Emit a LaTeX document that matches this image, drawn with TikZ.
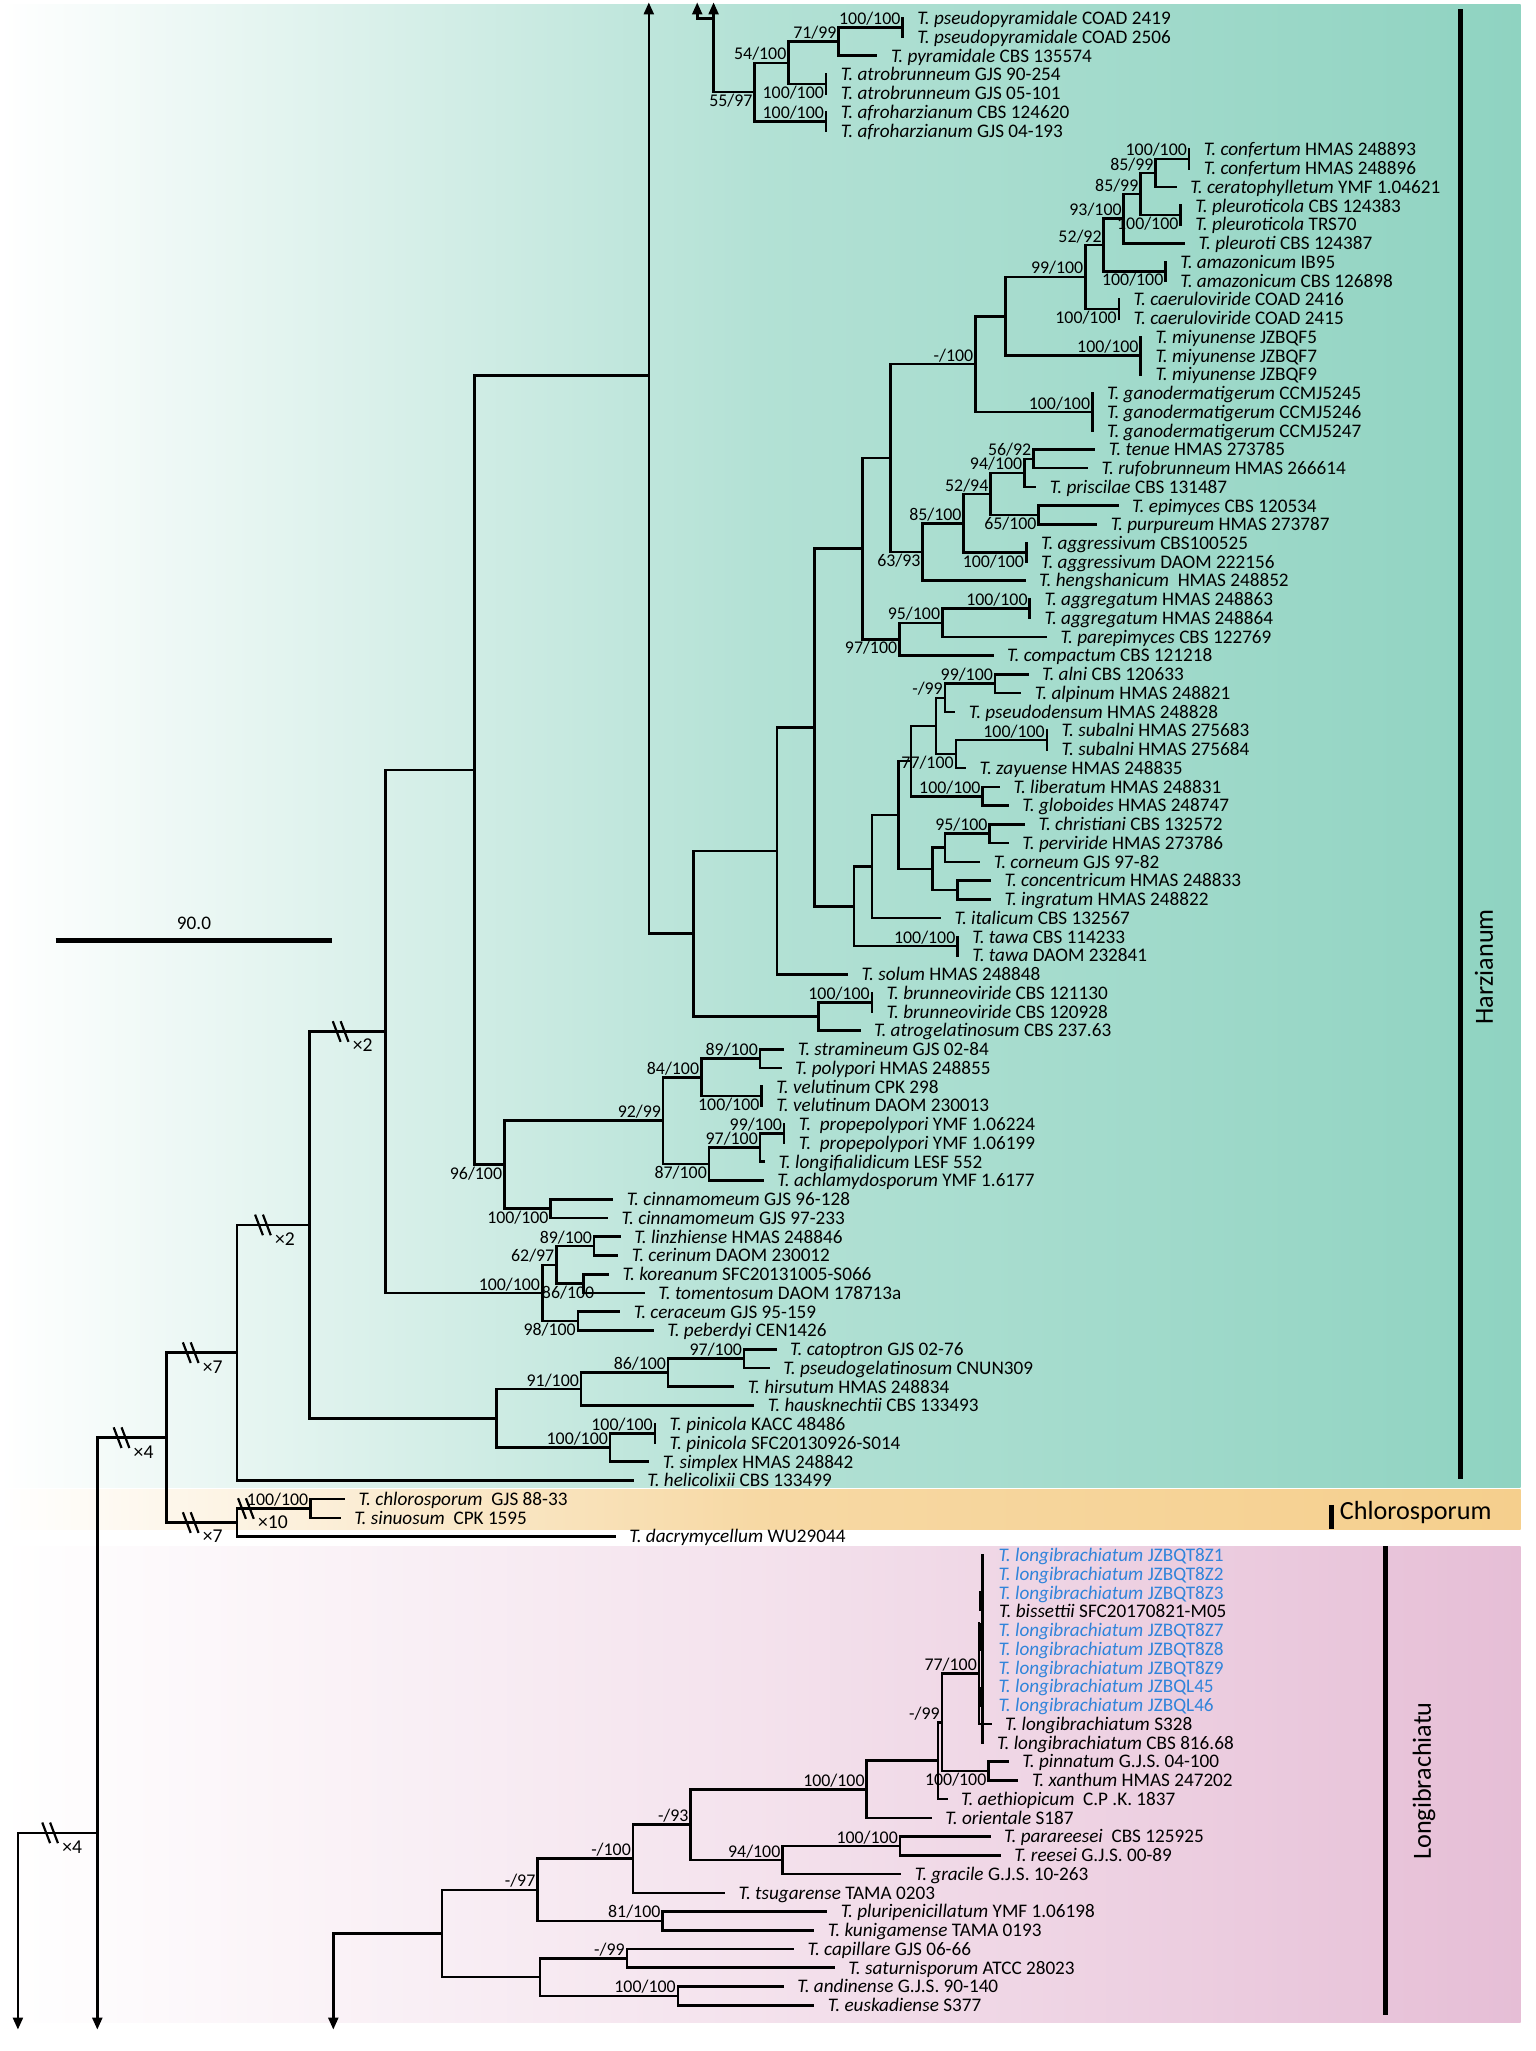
\documentclass[tikz,border=0pt]{standalone}
\usepackage{fontspec}
\setmainfont{Carlito}
\usetikzlibrary{arrows.meta}
\definecolor{harzgreen}{RGB}{143,211,193}
\definecolor{chlororange}{RGB}{245,207,141}
\definecolor{longipink}{RGB}{230,190,214}
\definecolor{newblue}{RGB}{48,132,218}

\begin{document}
\begin{tikzpicture}[x=0.6pt, y=-8.598pt,
    br/.style={line width=1.2pt, line cap=rect},
    arr/.style={line width=1.2pt, -{Triangle[length=5.5pt, width=4.5pt]}},
    tax/.style={anchor=base west, inner sep=0pt, yshift=-2.9pt, font=\fontsize{8.8}{10}\selectfont},
    supa/.style={anchor=south east, inner sep=0.8pt, font=\fontsize{8.2}{9}\selectfont},
    supb/.style={anchor=north east, inner sep=0.8pt, font=\fontsize{8.2}{9}\selectfont},
    brk/.style={line width=1pt},
    clade/.style={font=\fontsize{12}{14}\selectfont},
    cbar/.style={line width=2.2pt}
]

\useasboundingbox (0,-0.977) rectangle (1174,108.44);

\shade[left color=white, right color=harzgreen, middle color=harzgreen!68] (0,-0.726) rectangle (1162.5,78.37);
\shade[left color=white, right color=chlororange, middle color=chlororange!80] (0,78.46) rectangle (1162.5,80.6);
\shade[left color=white, right color=longipink, middle color=longipink!45] (0,81.52) rectangle (1162.5,106.94);

\foreach \n/\x/\r/\s/\t in {
  ppyA/690/0/pseudopyramidale/COAD 2419, ppyB/690/1/pseudopyramidale/COAD 2506,
  pyr/669.8/2/pyramidale/CBS 135574,
  atrA/631.5/3/atrobrunneum/GJS 90-254, atrB/631.5/4/atrobrunneum/GJS 05-101,
  afrA/631.5/5/afroharzianum/CBS 124620, afrB/631.5/6/afroharzianum/GJS 04-193,
  cfA/909/7/confertum/HMAS 248893, cfB/909/8/confertum/HMAS 248896,
  cer/898.7/9/ceratophylletum/YMF 1.04621,
  plA/902.5/10/pleuroticola/CBS 124383, plB/902.5/11/pleuroticola/TRS70,
  plt/905/12/pleuroti/CBS 124387,
  amA/891/13/amazonicum/IB95, amB/891/14/amazonicum/CBS 126898,
  caA/855.3/15/caeruloviride/COAD 2416, caB/855.3/16/caeruloviride/COAD 2415,
  miA/872/17/miyunense/JZBQF5, miB/872/18/miyunense/JZBQF7, miC/872/19/miyunense/JZBQF9,
  gaA/835/20/ganodermatigerum/CCMJ5245, gaB/835/21/ganodermatigerum/CCMJ5246,
  gaC/835/22/ganodermatigerum/CCMJ5247,
  ten/836.4/23/tenue/HMAS 273785, ruf/830.9/24/rufobrunneum/HMAS 266614,
  pri/791.3/25/priscilae/CBS 131487,
  epi/854.2/26/epimyces/CBS 120534, pur/837.8/27/purpureum/HMAS 273787,
  agA/784.5/28/aggressivum/CBS100525, agB/784.5/29/aggressivum/DAOM 222156,
  hen/783.1/30/hengshanicum/\ HMAS 248852,
  ggA/787.2/31/aggregatum/HMAS 248863, ggB/787.2/32/aggregatum/HMAS 248864,
  par/799.5/33/parepimyces/CBS 122769, com/758.6/34/compactum/CBS 121218,
  aln/785.3/35/alni/CBS 120633, alp/779.8/36/alpinum/HMAS 248821,
  psd/729.3/37/pseudodensum/HMAS 248828,
  sbA/800.3/38/subalni/HMAS 275683, sbB/800.3/39/subalni/HMAS 275684,
  zay/737.5/40/zayuense/HMAS 248835,
  lib/763.5/41/liberatum/HMAS 248831, glo/770.3/42/globoides/HMAS 248747,
  chr/782.6/43/christiani/CBS 132572, per/770.3/44/perviride/HMAS 273786,
  cor/748.4/45/corneum/GJS 97-82,
  con/756.6/46/concentricum/HMAS 248833, ing/756.6/47/ingratum/HMAS 248822,
  ita/718.4/48/italicum/CBS 132567,
  twA/732/49/tawa/CBS 114233, twB/732/50/tawa/DAOM 232841,
  sol/647.4/51/solum/HMAS 248848,
  bvA/666.5/52/brunneoviride/CBS 121130, bvB/666.5/53/brunneoviride/CBS 120928,
  atg/656.9/54/atrogelatinosum/CBS 237.63,
  str/598.6/55/stramineum/GJS 02-84, pol/596.6/56/polypori/HMAS 248855,
  veA/582.2/57/velutinum/CPK 298, veB/582.2/58/velutinum/DAOM 230013,
  ppA/599.4/59/\ propepolypori/YMF 1.06224, ppB/599.4/60/\ propepolypori/YMF 1.06199,
  lon/583.8/61/longifialidicum/LESF 552, ach/583/62/achlamydosporum/YMF 1.6177,
  ciA/467.8/63/cinnamomeum/GJS 96-128, ciB/463.9/64/cinnamomeum/GJS 97-233,
  lin/473.7/65/linzhiense/HMAS 248846, cern/471.7/66/cerinum/DAOM 230012,
  kor/464.7/67/koreanum/SFC20131005-S066, tom/492/68/tomentosum/DAOM 178713a,
  cera/473.2/69/ceraceum/GJS 95-159, peb/498.8/70/peberdyi/CEN1426,
  cat/592.7/71/catoptron/GJS 02-76, pge/587.6/72/pseudogelatinosum/CNUN309,
  hir/560.3/73/hirsutum/HMAS 248834, hau/575.7/74/hausknechtii/CBS 133493,
  piA/500.6/75/pinicola/KACC 48486, piB/500.6/76/pinicola/SFC20130926-S014,
  sim/495.5/77/simplex/HMAS 248842, hel/483.5/78/helicolixii/CBS 133499,
  chl/262.9/79/chlorosporum/\ GJS 88-33, sin/259.5/80/sinuosum/\ CPK 1595,
  dac/469.8/81/dacrymycellum/WU29044,
  bis/752.5/85/bissettii/SFC20170821-M05,
  s328/757/91/longibrachiatum/S328, cbs/751/92/longibrachiatum/CBS 816.68,
  pin/770.3/93/pinnatum/G.J.S. 04-100, xan/777.6/94/xanthum/HMAS 247202,
  aet/723.4/95/aethiopicum/\ C.P .K. 1837, ori/711.4/96/orientale/S187,
  prr/756.3/97/parareesei/\ CBS 125925, ree/764.1/98/reesei/G.J.S. 00-89,
  gra/688/99/gracile/G.J.S. 10-263, tsu/553.3/100/tsugarense/TAMA 0203,
  plu/631.4/101/pluripenicillatum/YMF 1.06198, kun/621.6/102/kunigamense/TAMA 0193,
  cap/606/103/capillare/GJS 06-66, sat/637.3/104/saturnisporum/ATCC 28023,
  adn/598.2/105/andinense/G.J.S. 90-140, eus/621.6/106/euskadiense/S377}{
  \coordinate (\n) at (\x,\r);
  \node[tax] (l\n) at (\x+11,\r) {\textit{T. \s} \t};
}

\foreach \n/\r/\t in {lgA/82/JZBQT8Z1, lgB/83/JZBQT8Z2, lgC/84/JZBQT8Z3, lgD/86/JZBQT8Z7,
    lgE/87/JZBQT8Z8, lgF/88/JZBQT8Z9, lgG/89/JZBQL45, lgH/90/JZBQL46}{
  \coordinate (\n) at (752,\r);
  \node[tax, text=newblue] (l\n) at (763,\r) {\textit{T. longibrachiatum} \t};
}

\foreach \n/\x/\y in {
  pp/690/0.5, atr/631.5/3.5, afr/631.5/5.5, n71/641.1/1.25, n54/602.8/2.375, n55/576.9/3.9375,
  cf/909/7.5, n85u/883.4/8.25, pl/902.5/10.5, n85l/871.9/9.375, n93/859.1/10.6875,
  am/891/13.5, n52/843.8/12.094, ca/855.3/15.5, n99a/829.8/13.797, mi/872/18,
  n99b/768.6/15.898, ga/835/21, nA/745.7/18.449,
  n56/790/23.5, n94/783.1/24.25, n65/794/26.5, n52b/757.2/25.375, ag/784.5/28.5,
  n85/736.7/26.938, n63/705.3/28.469, nB/680.7/23.459, gg/787.2/31.5, n95/720.3/32.25,
  n97/687.5/33.125, nC/659.4/28.292,
  n9910/760.7/35.5, n99c/722.4/36.25, sb/800.3/38.5, n77/730.7/39.25, nD/715.6/37.75,
  n100l/751.2/41.5, nE/696.5/39.625, n95b/756.6/43.5, nF/722.4/44.25, nG/732/46.5,
  nH/712.9/45.375, nI/687/42.5, nJ/666.5/45.25, tw/732/49.5, nK/652.8/47.375,
  nL/622.8/37.833, nM/594.1/44.417, bv/666.5/52.5, nN/625.5/53.25, nO/530.3/48.833,
  ar1/496/19.05,
  n89/581/55.5, ve/582.2/57.5, n84/536.1/56.5, pq/599.4/59.5, n97b/581/60.25,
  n87/542/61.125, n92/506.9/58.813, n100c/421/63.5, n96/385.5/61.156, nP/362.6/40.103,
  n89b/454.2/65.5, n86k/445.9/67.5, n62/425.4/66.5, n98/441.8/69.5, n100k/414.5/68,
  nQ/294.8/54.052,
  n97c/568.8/71.5, n86/510.8/72.25, n91/444.2/73.125, pi/500.6/75.5, n100p/466.4/76.25,
  nR/379.4/74.688, nS/236.5/64.37, nT/181.3/71.185,
  nCh/237.3/79.5, nU/181.3/80.25, nV/127.4/75.718,
  lb/748.4/88.3, nPX/755.7/93.5, n77L/720/90.9, n99L/717/92.95, n100o/662.6/94.475,
  npr/688/97.5, n94L/598.2/98.25, n93L/528/96.363, n100L/483.9/98.181, n81/506.5/101.5,
  n97L/410.9/99.84, n99d/479.2/103.5, n100a/518.2/105.5, nX/412.9/104.5, nY/337.9/102.17,
  arT/496/-0.85, arP/545.5/-0.85, arJ/545.5/0, arQ/533/-0.85,
  nWr/74.4/96.8, arW/74.4/107.3, arR/13.7/107.3, arL/254.8/107.3}
  \coordinate (\n) at (\x,\y);

\foreach \p/\c in {pp/ppyA, pp/ppyB, n71/pp, n71/pyr, n54/n71, n54/atr, atr/atrA, atr/atrB,
  n55/n54, n55/afr, afr/afrA, afr/afrB,
  cf/cfA, cf/cfB, n85u/cf, n85u/cer, pl/plA, pl/plB, n85l/n85u, n85l/pl, n93/n85l, n93/plt,
  am/amA, am/amB, n52/n93, n52/am, ca/caA, ca/caB, n99a/n52, n99a/ca, mi/miA, mi/miC,
  n99b/n99a, n99b/mi, ga/gaA, ga/gaC, nA/n99b, nA/ga,
  n56/ten, n56/ruf, n94/n56, n94/pri, n65/epi, n65/pur, n52b/n94, n52b/n65, ag/agA, ag/agB,
  n85/n52b, n85/ag, n63/n85, n63/hen, nB/nA, nB/n63, gg/ggA, gg/ggB, n95/gg, n95/par,
  n97/n95, n97/com, nC/nB, nC/n97,
  n9910/aln, n9910/alp, n99c/n9910, n99c/psd, sb/sbA, sb/sbB, n77/sb, n77/zay, nD/n99c, nD/n77,
  n100l/lib, n100l/glo, nE/nD, nE/n100l, n95b/chr, n95b/per, nF/n95b, nF/cor, nG/con, nG/ing,
  nH/nF, nH/nG, nI/nE, nI/nH, nJ/nI, nJ/ita, tw/twA, tw/twB, nK/nJ, nK/tw, nL/nC, nL/nK,
  nM/nL, nM/sol, bv/bvA, bv/bvB, nN/bv, nN/atg, nO/nM, nO/nN,
  n89/str, n89/pol, ve/veA, ve/veB, n84/n89, n84/ve, pq/ppA, pq/ppB, n97b/pq, n97b/lon,
  n87/n97b, n87/ach, n92/n84, n92/n87, n100c/ciA, n100c/ciB, n96/n92, n96/n100c,
  nP/ar1, nP/n96,
  n89b/lin, n89b/cern, n86k/kor, n86k/tom, n62/n89b, n62/n86k, n98/cera, n98/peb,
  n100k/n62, n100k/n98, nQ/nP, nQ/n100k,
  n97c/cat, n97c/pge, n86/n97c, n86/hir, n91/n86, n91/hau, pi/piA, pi/piB, n100p/pi, n100p/sim,
  nR/n91, nR/n100p, nS/nQ, nS/nR, nT/nS, nT/hel, nCh/chl, nCh/sin, nU/nCh, nU/dac,
  nV/nT, nV/nU,
  nPX/pin, nPX/xan, n77L/lb, n77L/nPX, n99L/n77L, n99L/aet, n100o/n99L, n100o/ori,
  npr/prr, npr/ree, n94L/npr, n94L/gra, n93L/n100o, n93L/n94L, n100L/n93L, n100L/tsu,
  n81/plu, n81/kun, n97L/n100L, n97L/n81, n99d/cap, n99d/sat, n100a/adn, n100a/eus,
  nX/n99d, nX/n100a, nY/n97L, nY/nX}
  \draw[br] (\p) |- (\c);

\draw[arr] (nO) -| (arT);
\draw[arr] (n55) -| (arP);
\draw[arr] (arJ) -| (arQ);
\draw[arr] (nV) -| (arW);
\draw[arr] (nWr) -| (arR);
\draw[arr] (nY) -| (arL);

\coordinate (lbt) at (751.3,82);
\coordinate (lbb) at (751.3,92);
\draw[br] (lbt) -- (lbb);
\draw[br] (748.4,85.6) -- (748.4,91) -- (s328);
\fill (748.4,83.9) rectangle (751.3,84.95);
\fill (748.4,85.6) rectangle (751.3,87.1);
\fill (748.4,89.0) rectangle (751.3,90.1);

\foreach \c/\a/\b in {pp/100/100, n71/71/99, n54/54/100, afr/100/100,
  cf/100/100, n85u/85/99, n85l/85/99, n93/93/100, n52/52/92, n99a/99/100, mi/100/100,
  ga/100/100, nA/-/100, n56/56/92, n94/94/100, n52b/52/94, n85/85/100, gg/100/100,
  n95/95/100, n9910/99/100, n99c/-/99, sb/100/100, n100l/100/100, n95b/95/100,
  tw/100/100, bv/100/100, n89/89/100, n84/84/100, n92/92/99, pq/99/100, n97b/97/100,
  n89b/89/100, n62/62/97, n100k/100/100, n97c/97/100, n86/86/100, n91/91/100,
  pi/100/100, n100p/100/100, nCh/100/100, lb/77/100, n77L/-/99, n100o/100/100,
  n93L/-/93, n94L/94/100, npr/100/100, n100L/-/100, n97L/-/97, n81/81/100,
  n99d/-/99, n100a/100/100}
  \node[supa] (a\c) at (\c) {\a/\b};

\foreach \c/\a/\b in {n55/55/97, atr/100/100, pl/100/100, am/100/100, ca/100/100,
  n65/65/100, ag/100/100, n63/63/93, n97/97/100, n77/77/100, ve/100/100, n87/87/100,
  n96/96/100, n100c/100/100, n98/98/100, nPX/100/100}
  \node[supb] (b\c) at (\c) {\a/\b};
\node[supb, xshift=6pt] (bn86k) at (n86k) {86/100};

\foreach \x/\r/\k [count=\i] in {39.3/96.8/4, 93.9/75.718/4, 146.8/71.185/7, 146.8/80.25/7,
    189/79.5/10, 261.4/54.052/2, 202/64.37/2}{
  \draw[brk] (\x-7,\r-0.55) -- (\x-1,\r+0.55);
  \draw[brk] (\x-1,\r-0.55) -- (\x+5,\r+0.55);
  \node[anchor=west, inner sep=0pt, font=\fontsize{9}{10}\selectfont] (x\i) at (\x+8,\r+0.75) {×\k};
}

\coordinate (sb1) at (42.6,49.2);
\coordinate (sb2) at (254,49.2);
\draw[line width=2pt] (sb1) -- (sb2);
\node[font=\fontsize{8.8}{10}\selectfont] (sbl) at (148.3,48.3) {90.0};

\coordinate (hb1) at (1116.6,-0.47);
\coordinate (hb2) at (1116.6,77.9);
\draw[cbar] (hb1) -- (hb2);
\node[clade, rotate=90] (harz) at (1134.5,50.6) {Harzianum};

\coordinate (cb1) at (1018,79.3);
\coordinate (cb2) at (1018,80.6);
\draw[cbar] (cb1) -- (cb2);
\node[clade, anchor=west, inner sep=0pt] (chlo) at (1024,79.7) {Chlorosporum};

\coordinate (lb1) at (1059.3,81.5);
\coordinate (lb2) at (1059.3,106.54);
\draw[cbar] (lb1) -- (lb2);
\node[clade, rotate=90] (longi) at (1088.6,94.03) {Longibrachiatu};

\end{tikzpicture}
\end{document}
